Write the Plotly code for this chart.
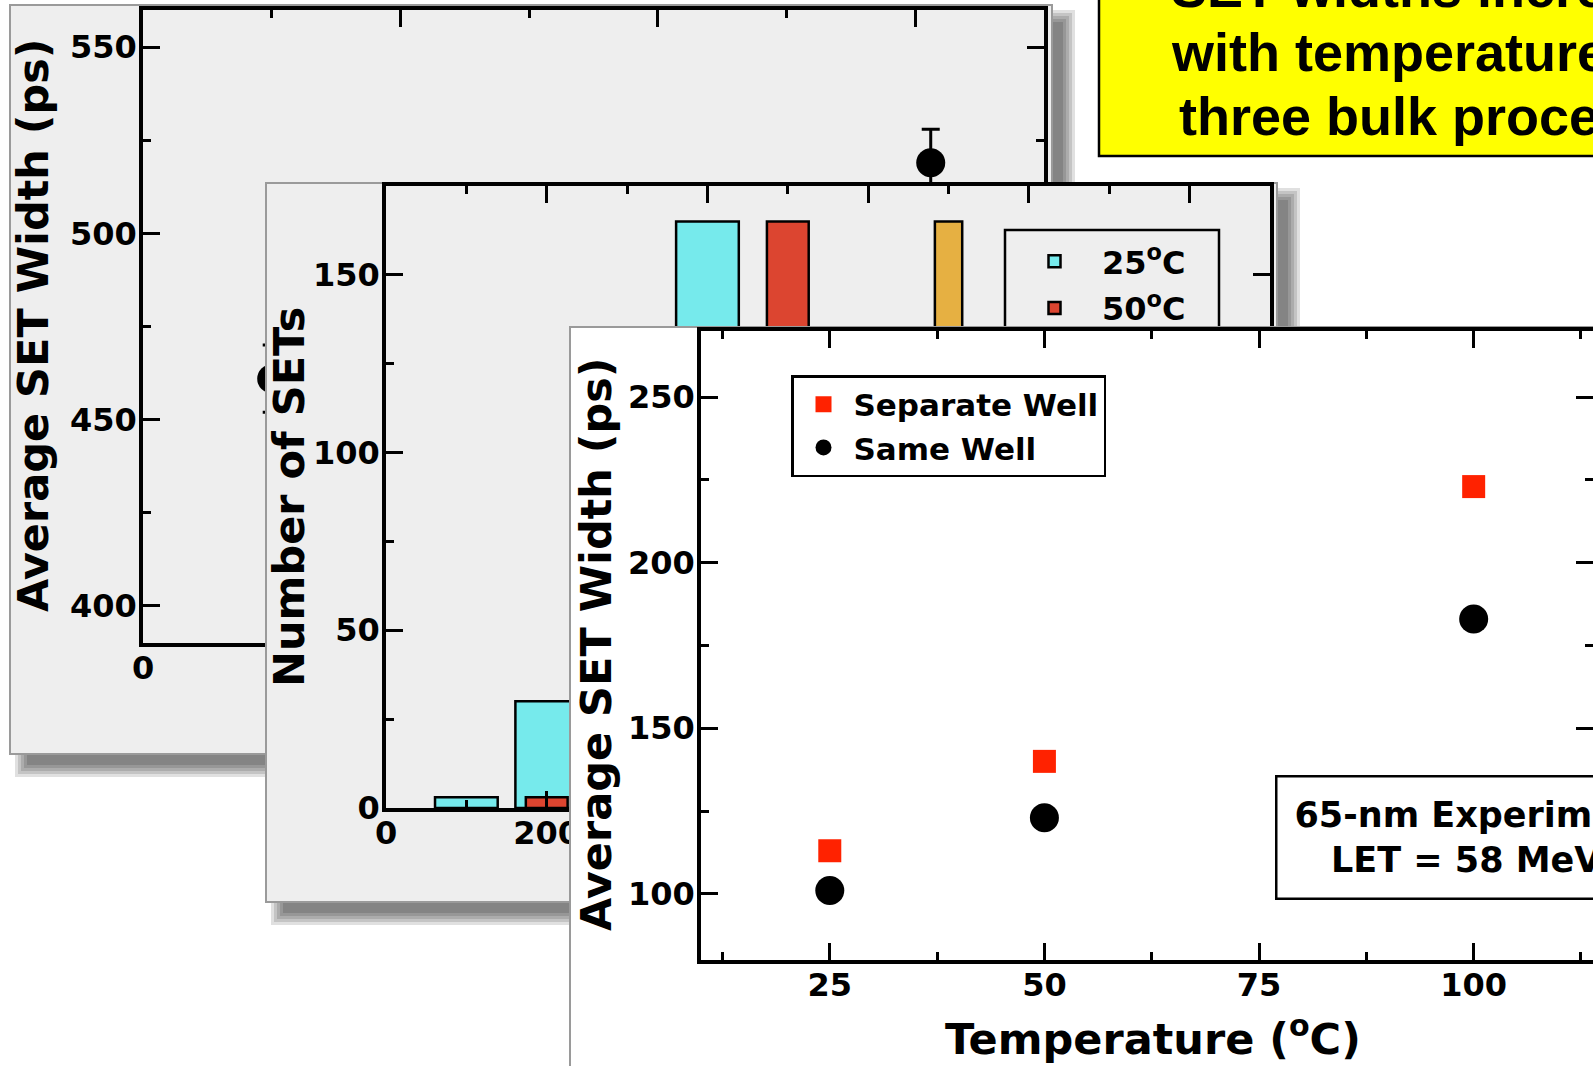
import plotly.graph_objects as go

W, H = 1593, 1066

# ---------------- data ----------------
# back panel: average SET width vs temperature (mostly hidden)
p1_temp = [25, 153]
p1_width = [461, 519]
p1_err = [9, 9]
p1_xticks = [0, 50, 100, 150]
p1_yticks = [400, 450, 500, 550]

# middle panel: histogram of SET widths (only the visible bars)
h25_width = [100, 200, 400]
h25_count = [3, 30, 165]
h50_width = [200, 500]
h50_count = [3, 165]
h100_width = [700]
h100_count = [165]
hist_names = ["25<sup>o</sup>C", "50<sup>o</sup>C", "100<sup>o</sup>C"]
p2_xticks = [0, 200, 400, 600, 800, 1000]
p2_yticks = [0, 50, 100, 150]

# front panel: 65-nm experiment
temps = [25, 50, 100]
separate_well = [113, 140, 223]
same_well = [101, 123, 183]
p3_xticks = [25, 50, 75, 100]
p3_yticks = [100, 150, 200, 250]

# ---------------- styles ----------------
FONT = "DejaVu Sans"
TICKFONT = dict(family=FONT, size=32, color="black", weight="bold")
PANEL_GRAY = "#eeeeee"
CYAN, RED, ORANGE = "#76eaec", "#dc4530", "#e6b042"

# pixel geometry of the middle panel's plot area (used to place its legend frame)
P2_LEFT, P2_RIGHT, P2_TOP, P2_BOTTOM = 386, 1270, 186, 808
P2_XRANGE, P2_YRANGE = [0, 1100], [0, 175]


def fx(px):
    return px / W


def fy(py):
    return 1 - py / H


def data_axis(px0, px1, rng, tickvals, minor_dtick, anchor, vertical=False):
    if vertical:
        dom = [fy(px1), fy(px0)]
        standoff = -4
    else:
        dom = [fx(px0), min(1.0, fx(px1))]
        standoff = -6
    return dict(domain=dom, range=rng, anchor=anchor, tickmode="array",
                tickvals=tickvals, ticktext=[str(v) for v in tickvals],
                showline=True, linecolor="black", linewidth=3.5, mirror="ticks",
                ticks="inside", ticklen=17, tickwidth=3, tickcolor="black",
                minor=dict(tick0=0, dtick=minor_dtick, ticks="inside", ticklen=8,
                           tickwidth=3, tickcolor="black", showgrid=False),
                showgrid=False, zeroline=False, tickfont=TICKFONT,
                ticklabelstandoff=standoff, fixedrange=True, automargin=False)


def bg_axes(x0, y0, x1, y1, anchor_x, anchor_y):
    xa = dict(domain=[fx(x0), min(1.0, fx(x1))], range=[x0, x1], visible=False,
              fixedrange=True, anchor=anchor_y, automargin=False)
    ya = dict(domain=[max(0.0, fy(y1)), fy(y0)], range=[H - y1, H - y0], visible=False,
              fixedrange=True, anchor=anchor_x, automargin=False)
    return xa, ya


def rect(xref, yref, x0, y0, x1, y1, fill, lc="rgba(0,0,0,0)", lw=0):
    return dict(type="rect", xref=xref, yref=yref, layer="below",
                x0=x0, x1=x1, y0=H - y1, y1=H - y0, fillcolor=fill,
                line=dict(color=lc, width=lw))


def panel(xref, yref, box, fill, shadow=True):
    bx0, by0, bx1, by1 = box
    out = []
    if shadow:
        for e in [9, 6, 3, 0, -3]:
            out.append(rect(xref, yref, bx0 + 14 - e, by0 + 14 - e, bx1 + 14 + e,
                            by1 + 14 + e, "rgba(0,0,0,0.12)"))
    out.append(rect(xref, yref, bx0, by0, bx1, by1, fill, "#9a9a9a", 2))
    return out


def p2x(px):
    return P2_XRANGE[0] + (px - P2_LEFT) * (P2_XRANGE[1] - P2_XRANGE[0]) / (P2_RIGHT - P2_LEFT)


def p2y(py):
    return P2_YRANGE[0] + (P2_BOTTOM - py) * (P2_YRANGE[1] - P2_YRANGE[0]) / (P2_BOTTOM - P2_TOP)


fig = go.Figure()
empty = dict(x=[None], y=[None], mode="markers", showlegend=False, hoverinfo="skip")

# subplot 1: back panel background
fig.add_trace(go.Scatter(**empty, xaxis="x", yaxis="y"))
# subplot 2: back panel data
fig.add_trace(go.Scatter(
    x=p1_temp, y=p1_width, mode="markers", xaxis="x2", yaxis="y2", showlegend=False,
    marker=dict(symbol="circle", size=29, color="black"),
    error_y=dict(type="data", array=p1_err, color="black", thickness=3, width=9)))
# subplot 3: middle panel background
fig.add_trace(go.Scatter(**empty, xaxis="x3", yaxis="y3"))
# subplot 4: histogram
for xs, ys, name, col, wdt, show in [
    (h25_width, h25_count, hist_names[0], CYAN, 78, True),
    (h50_width, h50_count, hist_names[1], RED, 52, True),
    (h100_width, h100_count, hist_names[2], ORANGE, 34, False),
]:
    fig.add_trace(go.Bar(x=xs, y=ys, width=wdt, name=name, xaxis="x4", yaxis="y4",
                         marker=dict(color=col, line=dict(color="black", width=2.5)),
                         legend="legend2", legendgroup=name, showlegend=show))
# subplot 5: front panel background
fig.add_trace(go.Scatter(**empty, xaxis="x5", yaxis="y5"))
# subplot 6: front panel data
fig.add_trace(go.Scatter(x=temps, y=separate_well, mode="markers", name="Separate Well",
                         xaxis="x6", yaxis="y6", legend="legend3",
                         marker=dict(symbol="square", size=23, color="#ff2200")))
fig.add_trace(go.Scatter(x=temps, y=same_well, mode="markers", name="Same Well",
                         xaxis="x6", yaxis="y6", legend="legend3",
                         marker=dict(symbol="circle", size=29, color="black")))

xa1, ya1 = bg_axes(0, 0, 1090, 790, "x", "y")
xa3, ya3 = bg_axes(255, 175, 1315, 940, "x3", "y3")
xa5, ya5 = bg_axes(560, 318, W, H, "x5", "y5")

shapes = []
shapes += panel("x", "y", (10, 5, 1052, 754), PANEL_GRAY)
shapes += panel("x3", "y3", (266, 183, 1277, 902), PANEL_GRAY)
# frame of the middle panel's legend (lives inside that panel, so the front panel hides it)
shapes.append(dict(type="rect", xref="x4", yref="y4", layer="below",
                   x0=p2x(1005), x1=p2x(1219), y0=p2y(420), y1=p2y(230),
                   fillcolor=PANEL_GRAY, line=dict(color="black", width=2.5)))
shapes += panel("x5", "y5", (570, 327, 1700, 1200), "white", shadow=False)
# yellow call-out box
shapes.append(dict(type="rect", xref="paper", yref="paper", layer="above",
                   x0=fx(1099), x1=1.0 + 8 / W, y0=fy(156), y1=1.0 + 8 / H,
                   fillcolor="#ffff00", line=dict(color="black", width=2.5)))

TITLEFONT = dict(family=FONT, size=43, color="black", weight="bold")
YELLOWFONT = dict(family="Liberation Sans, Arial", size=54, color="black", weight="bold")

annotations = [
    dict(text="Average SET Width (ps)", x=fx(33), y=fy(325), textangle=-90, font=TITLEFONT),
    dict(text="Number of SETs", x=fx(289), y=fy(497), textangle=-90, font=TITLEFONT),
    dict(text="Average SET Width (ps)", x=fx(596), y=fy(644), textangle=-90, font=TITLEFONT),
    dict(text="Temperature (<sup>o</sup>C)", x=fx(1153), y=fy(1036), font=TITLEFONT),
    dict(text="65-nm Experimental Data<br>LET = 58 MeV-cm<sup>2</sup>/mg", x=fx(1275),
         y=fy(775), xanchor="left", yanchor="top", align="center",
         font=dict(family=FONT, size=35, color="black", weight="bold"),
         bgcolor="white", bordercolor="black", borderwidth=2.5, borderpad=17),
    dict(text="SET widths increase", x=fx(1169), y=fy(-12.3), xanchor="left", font=YELLOWFONT),
    dict(text="with temperature in", x=fx(1169), y=fy(52), xanchor="left", font=YELLOWFONT),
    dict(text="three bulk processes", x=fx(1177), y=fy(116.3), xanchor="left", font=YELLOWFONT),
]
for a in annotations:
    a.update(xref="paper", yref="paper", showarrow=False)
    a.setdefault("xanchor", "center")
    a.setdefault("yanchor", "middle")

fig.update_layout(
    template="none",
    width=W, height=H, margin=dict(l=0, r=0, t=0, b=0, pad=0, autoexpand=False),
    autosize=False,
    paper_bgcolor="white", plot_bgcolor="rgba(0,0,0,0)", barmode="overlay",
    hovermode=False, showlegend=True,
    xaxis=xa1, yaxis=ya1,
    xaxis2=data_axis(143, 1044, [0, 175], p1_xticks, 25, "y2"),
    yaxis2=data_axis(10, 643, [390, 560], p1_yticks, 25, "x2", vertical=True),
    xaxis3=xa3, yaxis3=ya3,
    xaxis4=data_axis(P2_LEFT, P2_RIGHT, P2_XRANGE, p2_xticks, 100, "y4"),
    yaxis4=data_axis(P2_TOP, P2_BOTTOM, P2_YRANGE, p2_yticks, 25, "x4", vertical=True),
    xaxis5=xa5, yaxis5=ya5,
    xaxis6=data_axis(701, W, [10, 113.9], p3_xticks, 12.5, "y6"),
    yaxis6=data_axis(331, 960, [80, 270], p3_yticks, 25, "x6", vertical=True),
    shapes=shapes, annotations=annotations,
    legend2=dict(x=fx(1007), y=fy(234), xanchor="left", yanchor="top",
                 bgcolor="rgba(0,0,0,0)", borderwidth=0,
                 font=dict(family=FONT, size=32, color="black", weight="bold"),
                 itemwidth=85, traceorder="grouped", tracegroupgap=2),
    legend3=dict(x=fx(791), y=fy(375), xanchor="left", yanchor="top",
                 bgcolor="white", bordercolor="black", borderwidth=2.5,
                 font=dict(family=FONT, size=31, color="black", weight="bold"),
                 itemwidth=50),
)

fig.write_html("out.html", config={"displayModeBar": False})
